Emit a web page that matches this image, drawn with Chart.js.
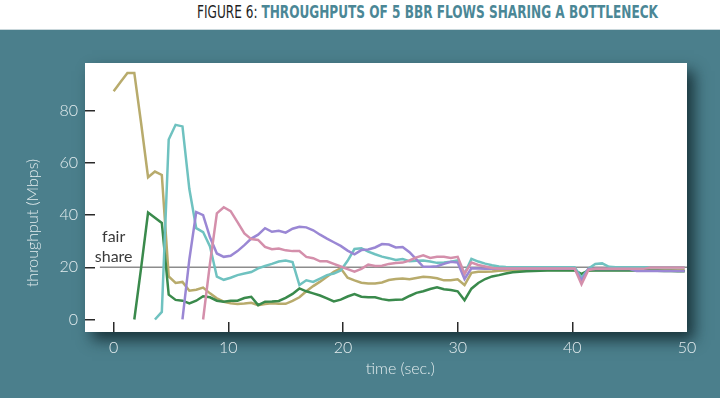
<!DOCTYPE html>
<html>
<head>
<meta charset="utf-8">
<script src="https://cdn.jsdelivr.net/npm/chart.js@4.4.1/dist/chart.umd.min.js"></script>
<style>
  html, body { margin: 0; padding: 0; width: 720px; height: 398px; overflow: hidden; background: #fff; }
  #head {
    position: relative; height: 30px; background: #fff;
    border-bottom: 1px solid #c9d7db; box-sizing: border-box;
  }
  #head .txt {
    position: absolute; left: 197px; top: 1px; white-space: nowrap;
    font-family: "Liberation Sans Narrow", "DejaVu Sans Condensed", Roboto, sans-serif;
    font-size: 18px; line-height: 22px; transform-origin: 0 50%;
  }
  #head .fig { color: #1e1e1e; }
  #head .ttl { color: #4b8796; font-weight: bold; }
  #wrap { position: relative; width: 720px; height: 368px; background: #4b7f8c; }
</style>
</head>
<body>
<div id="head"><div class="txt" id="title"><span class="fig">FIGURE 6:</span> <span class="ttl">THROUGHPUTS OF 5 BBR FLOWS SHARING A BOTTLENECK</span></div></div>
<div id="wrap"><canvas id="chart-bbr" width="720" height="368"></canvas></div>
<script>
// squeeze the title into the width it has in the figure
const titleEl = document.getElementById("title");
const titleW = titleEl.getBoundingClientRect().width;
titleEl.style.transform = "scaleX(" + (461 / titleW) + ")";

// sample times (sec.), one every 0.6 s
function generateTimes() {
  let arr = [];
  for (let i = 0; i < 84; i++) {
    arr.push(Math.round(i * 6) / 10);
  }
  return arr;
}
const times = generateTimes();

// throughput (Mbps) per flow, null before a flow starts
const flowOlive = [
  87.5, 91, 94.5, 94.5, 75, 54.5, 56.7, 55.4, 16.5, 14,
  14.4, 11, 11.4, 12.2, 10, 8.1, 6.8, 6.2, 5.9, 6.1,
  6.4, 5.5, 5.9, 6.2, 6.0, 6.0, 7.1, 8.5, 10.8, 12.8,
  14.5, 16.4, 18.3, 19.6, 16, 15, 14.1, 13.8, 13.8, 14.2,
  15.1, 15.5, 15.7, 15.4, 15.9, 16.4, 16.2, 15.8, 15, 15,
  15.4, 13.2, 17.9, 18.3, 18.3, 18.4, 18.7, 18.8, 18.9, 19,
  19, 19, 19, 19, 19, 19, 19, 18.9, 17, 18.8,
  19, 19, 19, 19, 19, 19, 19, 19, 19, 19,
  19, 19, 19, 19
];
const flowGreen = [
  null, null, null, 0, 20, 41, 39, 37, 9.5, 7.5,
  7.2, 6.2, 7.2, 8.9, 8.5, 7.2, 6.8, 7.2, 7.2, 8.2,
  8.7, 5.5, 6.8, 6.9, 7.1, 8.3, 9.8, 11.9, 10.8, 10,
  9.2, 8.1, 6.9, 7.6, 8.8, 9.7, 8.7, 8.5, 8.5, 7.8,
  7.4, 7.6, 7.7, 9.0, 10.2, 10.8, 11.7, 12.3, 11.6, 11.3,
  10.8, 7.4, 11.8, 14.0, 15.5, 16.5, 17, 17.6, 18.1, 18.3,
  18.5, 18.6, 18.7, 18.8, 18.8, 18.8, 18.8, 18.8, 17.5, 18.8,
  18.8, 18.8, 18.8, 18.8, 18.8, 18.8, 18.8, 18.8, 18.7, 18.7,
  18.6, 18.6, 18.5, 18.5
];
const flowTeal = [
  null, null, null, null, null, null, 0, 2.9, 69, 74.6,
  74, 50, 35, 33.5, 28, 16.4, 15.2, 16, 17, 17.6,
  18.2, 19.6, 20.5, 21.3, 22.2, 22.6, 22.0, 13.2, 15, 14.4,
  15.7, 17, 17.6, 18.8, 22.5, 27, 27.3, 26, 25, 24.1,
  23.5, 22.8, 23.2, 22.3, 22.5, 22.6, 22.2, 21.7, 21.8, 22.1,
  22.6, 17.5, 23.2, 22.2, 21.4, 20.8, 20.3, 20.1, 20, 20,
  20, 20, 20, 20, 20, 20, 20, 20, 16, 19.5,
  21.3, 21.5, 20.2, 20, 20, 20, 20, 20, 20, 20,
  20, 20, 20, 20
];
const flowPurple = [
  null, null, null, null, null, null, null, null, null, null,
  0, 23, 41.2, 40, 31.5, 25.3, 24, 24.4, 26.2, 28.5,
  31, 32.5, 35, 33.6, 34, 33.3, 34.8, 35.5, 35.3, 34.2,
  32.5, 31, 29.6, 28.2, 26.4, 25, 26.6, 26.8, 27.6, 28.9,
  28.7, 27.6, 27.8, 25.8, 23, 20.2, 20.2, 20.4, 21.3, 22.1,
  21.8, 15.5, 19.6, 19.5, 19.4, 19.4, 19.4, 19.4, 19.4, 19.4,
  19.4, 19.4, 19.4, 19.4, 19.4, 19.4, 19.4, 19.4, 15, 19.3,
  19.3, 19.3, 19.3, 19.3, 19.3, 19.3, 18.6, 18.6, 18.6, 18.6,
  18.6, 18.6, 18.6, 18.6
];
const flowPink = [
  null, null, null, null, null, null, null, null, null, null,
  null, null, null, 0, 21.5, 40.7, 43, 41.5, 37.3, 33,
  30.8, 30.5, 27.8, 26.9, 27.2, 26.5, 26.2, 26.2, 24, 23.5,
  22.3, 22.3, 21.3, 20.3, 19.3, 18.3, 19.4, 21, 20.5, 20.6,
  21.3, 21.6, 21.8, 22.6, 23.8, 24.6, 23.6, 24, 24, 23.6,
  24, 17.5, 21.8, 20.9, 20.3, 19.7, 19.5, 19.5, 19.5, 19.5,
  19.5, 19.5, 19.5, 19.5, 19.5, 19.5, 19.5, 19.5, 13.5, 19,
  19.4, 19.4, 19.4, 19.4, 19.4, 19.4, 19.4, 19.4, 19.9, 19.9,
  19.9, 19.9, 19.9, 19.9
];

const fairShare = 20;
const fairShareFrom = -1.2;
const xTicks = [0, 10, 20, 30, 40, 50];
const yTicks = [0, 20, 40, 60, 80];

function toPoints(values) {
  return times.map((t, i) => ({ x: t, y: values[i] }));
}

function flowLine(data, color) {
  return {
    data: toPoints(data),
    borderColor: color,
    backgroundColor: color,
    borderWidth: 2.5,
    pointRadius: 0,
    tension: 0,
  };
}

const tickFont = { family: "Lato, 'Noto Sans', sans-serif", size: 16, weight: 300 };
const lightText = "#e3ecee";

// white plot panel with a drop shadow, axis titles and the fair share label
const panelPlugin = {
  id: "panel",
  beforeDraw(chart) {
    const { ctx, chartArea } = chart;
    ctx.save();
    ctx.shadowColor = "rgba(12, 32, 38, 0.8)";
    ctx.shadowBlur = 14;
    ctx.shadowOffsetX = 7;
    ctx.shadowOffsetY = 8;
    ctx.fillStyle = "#ffffff";
    ctx.fillRect(chartArea.left, chartArea.top, chartArea.right - chartArea.left, chartArea.bottom - chartArea.top);
    ctx.restore();
  },
  afterDraw(chart) {
    const { ctx } = chart;
    const xs = chart.scales.x;
    const ys = chart.scales.y;
    ctx.save();
    ctx.font = "300 16px Lato, 'Noto Sans', sans-serif";
    ctx.textAlign = "center";
    ctx.textBaseline = "middle";
    ctx.fillStyle = lightText;
    ctx.fillText("time (sec.)", xs.getPixelForValue(25), xs.top + 37);
    ctx.translate(ys.left + 33, ys.getPixelForValue(37));
    ctx.rotate(-Math.PI / 2);
    ctx.fillText("throughput (Mbps)", 0, 0);
    ctx.restore();

    ctx.save();
    ctx.font = "16px Lato, 'Noto Sans', sans-serif";
    ctx.textAlign = "center";
    ctx.textBaseline = "middle";
    ctx.fillStyle = "#3a3a3a";
    ctx.fillText("fair", xs.getPixelForValue(0), ys.getPixelForValue(31.5));
    ctx.fillText("share", xs.getPixelForValue(0), ys.getPixelForValue(24));
    ctx.restore();
  },
};

const ctxBbr = document.getElementById("chart-bbr");

new Chart(ctxBbr, {
  type: "line",
  data: {
    datasets: [
      flowLine(flowPink, "#d48fab"),
      flowLine(flowPurple, "#9a87d4"),
      flowLine(flowTeal, "#6fc2c0"),
      flowLine(flowGreen, "#3a8a4c"),
      flowLine(flowOlive, "#b8ab6c"),
      {
        data: [
          { x: fairShareFrom, y: fairShare },
          { x: 50, y: fairShare },
        ],
        borderColor: "#8c8c8c",
        borderWidth: 1.5,
        pointRadius: 0,
      },
    ],
  },
  options: {
    responsive: false,
    animation: false,
    layout: { padding: { top: 33, right: 33, left: 0, bottom: 0 } },
    plugins: {
      legend: { display: false },
      tooltip: { enabled: false },
    },
    scales: {
      x: {
        type: "linear",
        min: -2.5,
        max: 50,
        afterBuildTicks: (scale) => {
          scale.ticks = xTicks.map((v) => ({ value: v }));
        },
        afterFit: (scale) => {
          scale.height = 66;
        },
        border: { display: false },
        grid: {
          drawOnChartArea: false,
          tickLength: -10,
          lineWidth: 1.5,
          color: (c) => (c.tick && c.tick.value === 50 ? "rgba(0,0,0,0)" : "#2a2a2a"),
        },
        ticks: { color: lightText, font: tickFont, padding: 16, maxRotation: 0 },
      },
      y: {
        type: "linear",
        min: -4.8,
        max: 98.3,
        afterBuildTicks: (scale) => {
          scale.ticks = yTicks.map((v) => ({ value: v }));
        },
        afterFit: (scale) => {
          scale.width = 85;
        },
        border: { display: false },
        grid: { drawOnChartArea: false, tickLength: -10, color: "#2a2a2a", lineWidth: 1.5 },
        ticks: { color: lightText, font: tickFont, padding: 17 },
      },
    },
  },
  plugins: [panelPlugin],
});
</script>
</body>
</html>
